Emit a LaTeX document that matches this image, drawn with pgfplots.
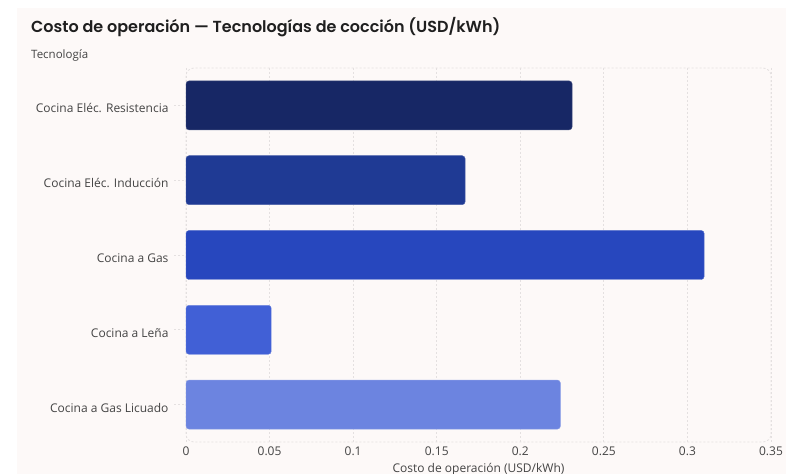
\documentclass[border=0pt]{standalone}
\usepackage{pgfplots}
\pgfplotsset{compat=1.18}
\usepackage{fontspec}
\setmainfont{Open Sans}
\newfontfamily\titlefont{Poppins}[BoldFont={* SemiBold}]
\definecolor{panel}{HTML}{FDF9F8}
\definecolor{gridc}{HTML}{E4E0E0}
\definecolor{txt}{HTML}{444444}
\definecolor{cA}{HTML}{172765}
\definecolor{cB}{HTML}{1F3A94}
\definecolor{cC}{HTML}{2747BE}
\definecolor{cD}{HTML}{4160D6}
\definecolor{cE}{HTML}{6C84E0}
\begin{document}
\begin{tikzpicture}[x=1bp,y=1bp]
\clip (0,0) rectangle (792,474);
\fill[white] (0,0) rectangle (792,474);
\fill[panel] (17,0) rectangle (786,466);
\node[anchor=base west,inner sep=0pt,text=black!88] at (31,441) {\titlefont\fontsize{16bp}{19bp}\selectfont\bfseries Costo de operación — Tecnologías de cocción (USD/kWh)};
\node[anchor=base west,inner sep=0pt,text=txt] at (31,415) {\fontsize{11.5bp}{13bp}\selectfont Tecnología};
\begin{axis}[
  at={(186bp,32bp)}, anchor=south west,
  width=585bp, height=374bp, scale only axis,
  xmin=0, xmax=0.35, ymin=-0.5, ymax=4.5, y dir=reverse,
  xtick={0,0.05,...,0.35},
  xticklabels={0,0.05,0.1,0.15,0.2,0.25,0.3,0.35},
  ytick={0,1,2,3,4},
  yticklabels={Cocina Eléc. Resistencia,Cocina Eléc. Inducción,Cocina a Gas,Cocina a Leña,Cocina a Gas Licuado},
  axis line style={draw=none},
  xmajorgrids,
  grid style={gridc, dash pattern=on 2bp off 2bp, line width=0.8bp},
  major tick length=0pt,
  ytick style={draw=none},
  xtick style={draw=none},
  tick label style={text=txt, font=\fontsize{12bp}{14bp}\selectfont},
  yticklabel style={xshift=-14bp, yshift=-3bp},
  xticklabel style={yshift=-1bp},
  xlabel={Costo de operación (USD/kWh)},
  xlabel style={text=txt, font=\fontsize{12bp}{14bp}\selectfont, yshift=-1bp},
  xbar, bar width=49bp, bar shift=0pt,
  clip=false,
]
\draw[gridc, dash pattern=on 2bp off 2bp, line width=0.8bp, rounded corners=8bp] (rel axis cs:0,0) rectangle (rel axis cs:1,1);
\foreach \k in {0,...,4} {
  \edef\tmp{\noexpand\draw[gridc, dash pattern=on 2bp off 2bp, line width=0.8bp] ([xshift=-12bp]axis cs:0,\k) -- (axis cs:0,\k);}
  \tmp
}
\addplot[fill=cA, draw=cA!80!white, rounded corners=3bp] coordinates {(0.231,0)};
\addplot[fill=cB, draw=cB!80!white, rounded corners=3bp] coordinates {(0.167,1)};
\addplot[fill=cC, draw=cC!80!white, rounded corners=3bp] coordinates {(0.310,2)};
\addplot[fill=cD, draw=cD!80!white, rounded corners=3bp] coordinates {(0.051,3)};
\addplot[fill=cE, draw=cE!80!white, rounded corners=3bp] coordinates {(0.224,4)};
\end{axis}
\end{tikzpicture}
\end{document}
